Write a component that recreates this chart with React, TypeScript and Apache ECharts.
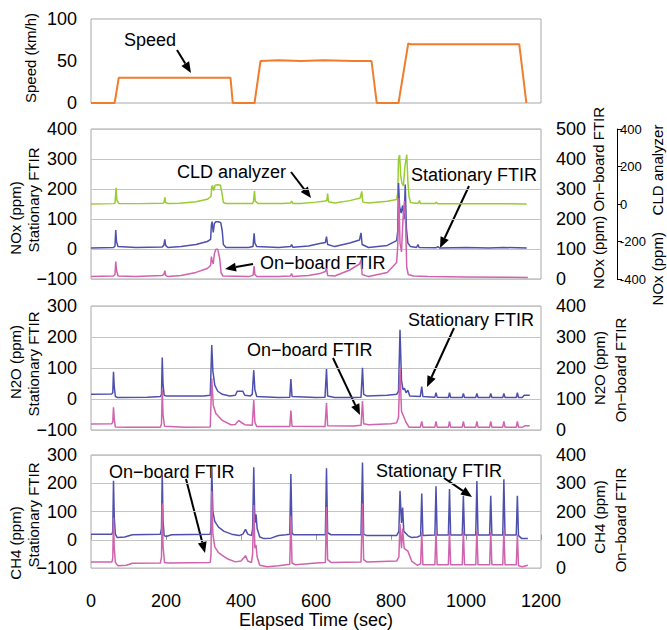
import React, { useEffect, useRef } from "react";
import * as echarts from "echarts";

type P = [number, number];

// ---- Tick settings ----
const X_MIN = 0;
const X_MAX = 1200;
const X_STEP = 200;

// ---- Speed (km/h) ----
const speed: P[] = [
  [0, 0], [63, 0], [74, 30], [150, 30], [250, 30], [372, 30], [378, 0], [436, 0], [452, 50],
  [500, 51], [560, 50], [620, 51], [700, 50], [748, 50], [762, 0], [820, 0], [846, 71],
  [852, 70], [960, 70], [1050, 70], [1142, 70], [1161, 0],
];

// ---- NOx ----
const noxStationary: P[] = [
  [0, 3], [60, 5], [64, 10], [66, 63], [68, 25], [72, 8], [120, 5], [190, 7], [194, 12], [197, 32],
  [199, 12], [205, 5], [240, 8], [280, 15], [310, 25], [319, 32], [321, 80], [323, 91], [326, 55],
  [329, 85], [333, 91], [340, 91], [346, 88], [350, 60], [353, 15], [360, 5], [420, 5], [432, 8],
  [435, 52], [437, 20], [442, 8], [500, 5], [532, 8], [535, 15], [538, 6], [580, 10], [610, 18],
  [625, 22], [628, 41], [631, 15], [650, 8], [690, 20], [716, 30], [720, 54], [723, 15], [740, 5],
  [790, 12], [815, 28], [818, 60], [820, 220], [823, 140], [827, 120], [831, 145], [835, 100],
  [838, 215], [841, 70], [845, 20], [852, 8], [868, 5], [872, 15], [875, 5], [920, 4], [925, 8],
  [930, 3], [1000, 5], [1060, 3], [1100, 5], [1162, 3],
];
const noxOnboard: P[] = [
  [0, 8], [60, 10], [64, 15], [66, 58], [68, 30], [72, 10], [120, 8], [190, 12], [194, 15], [197, 28],
  [199, 12], [205, 8], [240, 12], [280, 22], [310, 35], [319, 45], [321, 75], [323, 60], [326, 50],
  [329, 85], [333, 99], [338, 99], [343, 70], [347, 20], [352, 10], [420, 8], [432, 12], [435, 43],
  [437, 15], [442, 8], [500, 8], [532, 10], [535, 18], [538, 8], [580, 12], [610, 18], [625, 25],
  [628, 36], [631, 12], [650, 10], [690, 30], [716, 50], [720, 63], [723, 15], [740, 8], [790, 22],
  [815, 55], [818, 110], [821, 270], [824, 120], [828, 90], [832, 200], [836, 260], [839, 180],
  [842, 40], [846, 15], [860, 10], [900, 8], [1000, 7], [1100, 6], [1165, 5],
];
const noxCLD: P[] = [
  [0, 0], [60, 2], [64, 5], [67, 86], [69, 20], [74, 3], [130, 2], [192, 4], [195, 10], [197, 35],
  [199, 8], [205, 3], [237, 4], [280, 12], [310, 25], [320, 40], [322, 90], [324, 99], [327, 72],
  [331, 100], [338, 103], [345, 100], [349, 60], [353, 8], [360, 3], [430, 3], [433, 10], [436, 69],
  [438, 15], [445, 3], [510, 3], [532, 5], [535, 16], [538, 3], [560, 3], [600, 10], [625, 16],
  [629, 20], [631, 56], [633, 12], [650, 5], [690, 18], [718, 32], [722, 67], [725, 10], [740, 5],
  [790, 15], [815, 24], [818, 60], [820, 240], [823, 261], [826, 150], [829, 112], [833, 96],
  [837, 200], [840, 240], [842, 264], [845, 120], [848, 40], [852, 8], [870, 3], [874, 8], [876, 19],
  [878, 3], [918, 3], [921, 10], [924, 2], [1000, 2], [1100, 1], [1162, 0],
];

// ---- N2O ----
const n2oStationary: P[] = [
  [0, 15], [55, 16], [58, 20], [60, 88], [62, 40], [65, 8], [70, 5], [150, 6], [185, 8], [188, 15],
  [190, 134], [192, 50], [195, 12], [200, 10], [300, 10], [318, 12], [322, 174], [325, 90], [330, 45],
  [338, 25], [350, 15], [370, 10], [385, 12], [390, 25], [405, 25], [410, 12], [425, 10], [430, 15],
  [434, 93], [437, 30], [442, 8], [500, 5], [530, 6], [533, 64], [536, 8], [600, 5], [624, 6],
  [628, 97], [631, 10], [650, 5], [700, 5], [720, 6], [724, 101], [727, 15], [735, 10], [790, 12],
  [815, 15], [820, 25], [824, 223], [828, 60], [832, 30], [836, 35], [840, 20], [845, 28], [850, 10],
  [878, 8], [882, 40], [885, 8], [917, 6], [920, 20], [923, 6], [953, 5], [956, 20], [959, 5],
  [990, 5], [993, 18], [996, 5], [1026, 5], [1029, 18], [1032, 5], [1063, 5], [1066, 18], [1069, 5],
  [1098, 5], [1101, 18], [1104, 5], [1134, 5], [1137, 20], [1140, 5], [1150, 5], [1155, 12], [1170, 12],
];
const n2oOnboard: P[] = [
  [0, 19], [55, 20], [58, 25], [60, 73], [62, 35], [65, 10], [100, 9], [185, 9], [188, 20], [190, 130],
  [192, 50], [196, 12], [250, 9], [318, 10], [322, 167], [326, 80], [333, 53], [350, 31], [373, 17],
  [385, 18], [394, 31], [400, 25], [410, 17], [430, 15], [434, 97], [437, 25], [442, 11], [530, 11],
  [533, 63], [536, 12], [624, 11], [628, 87], [631, 14], [700, 13], [720, 15], [724, 93], [727, 20],
  [740, 17], [800, 20], [815, 23], [820, 40], [824, 200], [828, 60], [834, 43], [840, 25], [848, 9],
  [878, 9], [882, 28], [885, 9], [917, 9], [920, 28], [923, 9], [953, 9], [956, 28], [959, 9],
  [990, 9], [993, 28], [996, 9], [1026, 9], [1029, 28], [1032, 9], [1063, 9], [1066, 28], [1069, 9],
  [1098, 9], [1101, 28], [1104, 9], [1134, 9], [1137, 28], [1140, 9], [1152, 10], [1158, 14], [1170, 14],
];

// ---- CH4 ----
const ch4Stationary: P[] = [
  [0, 20], [56, 20], [58, 30], [60, 209], [62, 80], [65, 20], [70, 8], [90, 10], [110, 18], [185, 20],
  [188, 40], [190, 239], [192, 70], [195, 15], [200, 12], [215, 18], [318, 20], [320, 40], [322, 257],
  [325, 100], [330, 65], [340, 45], [355, 30], [375, 20], [395, 15], [405, 20], [412, 37], [418, 20],
  [428, 15], [431, 40], [434, 257], [437, 60], [440, 90], [443, 40], [450, 10], [460, 5], [480, 6],
  [500, 15], [520, 18], [530, 20], [533, 233], [536, 25], [540, 18], [625, 18], [628, 253], [631, 25],
  [640, 18], [720, 18], [724, 273], [727, 20], [735, 15], [815, 15], [821, 30], [824, 173], [828, 60],
  [831, 114], [834, 30], [845, 15], [855, 8], [870, 10], [879, 15], [882, 164], [885, 15], [917, 17],
  [920, 189], [923, 17], [953, 17], [956, 180], [959, 17], [990, 17], [993, 156], [996, 17],
  [1026, 17], [1029, 208], [1032, 17], [1063, 17], [1066, 156], [1069, 17], [1098, 17], [1101, 214],
  [1104, 17], [1134, 17], [1137, 156], [1140, 15], [1148, 5], [1165, 5],
];
const ch4Onboard: P[] = [
  [0, 22], [56, 22], [58, 35], [60, 178], [62, 70], [65, 20], [72, 8], [95, 10], [110, 17], [185, 18],
  [188, 40], [190, 228], [192, 80], [196, 20], [205, 18], [318, 20], [320, 50], [322, 272], [325, 120],
  [330, 75], [340, 55], [350, 45], [365, 32], [385, 22], [400, 25], [412, 44], [418, 25], [428, 20],
  [431, 50], [434, 223], [437, 70], [440, 82], [443, 40], [450, 10], [470, 5], [500, 8], [520, 12],
  [530, 14], [533, 183], [536, 18], [545, 12], [600, 18], [625, 20], [628, 217], [631, 30], [640, 20],
  [720, 22], [724, 228], [727, 30], [735, 22], [815, 25], [821, 40], [824, 156], [828, 70], [831, 140],
  [835, 70], [845, 60], [855, 25], [870, 10], [879, 15], [882, 128], [885, 12], [917, 12], [920, 133],
  [923, 12], [953, 12], [956, 133], [959, 12], [990, 12], [993, 133], [996, 12], [1026, 12],
  [1029, 133], [1032, 12], [1063, 12], [1066, 128], [1069, 12], [1098, 12], [1101, 135], [1104, 12],
  [1134, 12], [1137, 119], [1140, 8], [1150, 5], [1165, 10],
];

const FONT = '"Liberation Sans", Arial, sans-serif';
const C_SPEED = "#F07D2D";
const C_GREEN = "#99CC33";
const C_BLUE = "#4E50AE";
const C_PINK = "#CF63AE";

function arrow(x1: number, y1: number, x2: number, y2: number) {
  const a = Math.atan2(y2 - y1, x2 - x1);
  const L = 11;
  const W = 4.5;
  const bx = x2 - L * Math.cos(a);
  const by = y2 - L * Math.sin(a);
  return [
    { type: "line", shape: { x1, y1, x2: bx, y2: by }, style: { stroke: "#000", lineWidth: 2 } },
    {
      type: "polygon",
      shape: {
        points: [
          [x2, y2],
          [bx - W * Math.sin(a), by + W * Math.cos(a)],
          [bx + W * Math.sin(a), by - W * Math.cos(a)],
        ],
      },
      style: { fill: "#000" },
    },
  ];
}

function label(text: string, x: number, y: number, size = 18) {
  return {
    type: "text",
    x,
    y,
    style: { text, fill: "#000", font: `${size}px ${FONT}`, align: "left", verticalAlign: "middle" },
  };
}

function vtitle(text: string, x: number, y: number, size = 15) {
  return {
    type: "text",
    x,
    y,
    rotation: Math.PI / 2,
    style: { text, fill: "#000", font: `${size}px ${FONT}`, align: "center", verticalAlign: "middle" },
  };
}

const minus = (v: number) => String(v).replace("-", "\u2212");

function leftY(grid: number, min: number, max: number, interval: number, split: boolean) {
  return {
    type: "value",
    gridIndex: grid,
    position: "left",
    min,
    max,
    interval,
    axisLine: { show: false },
    axisTick: { show: false },
    splitLine: { show: split, lineStyle: { color: "#c4c4c4", width: 1 } },
    axisLabel: { fontSize: 18, color: "#000", margin: 14, fontFamily: FONT, formatter: minus },
  };
}
function rightY(grid: number, min: number, max: number, interval: number) {
  return {
    type: "value",
    gridIndex: grid,
    position: "right",
    min,
    max,
    interval,
    axisLine: { show: false },
    axisTick: { show: false },
    splitLine: { show: false },
    axisLabel: { fontSize: 18, color: "#000", margin: 15, fontFamily: FONT, formatter: minus },
  };
}

function line(data: P[], x: number, y: number, color: string, width = 1.5) {
  return {
    type: "line",
    xAxisIndex: x,
    yAxisIndex: y,
    data,
    showSymbol: false,
    symbol: "none",
    lineStyle: { color, width },
    itemStyle: { color },
    silent: true,
  };
}

export default function App() {
  const ref = useRef<HTMLDivElement>(null);
  useEffect(() => {
    const chart = echarts.init(ref.current!, null, { renderer: "svg" });
    const grids = [
      { top: 19, height: 84 },
      { top: 129, height: 150 },
      { top: 306, height: 124 },
      { top: 455, height: 120 },
    ].map((g) => ({ ...g, left: 91, right: 126, show: true, borderColor: "#a8a8a8", borderWidth: 1 }));

    const xAxis = [0, 1, 2, 3].map((i) => ({
      type: "value",
      gridIndex: i,
      min: X_MIN,
      max: X_MAX,
      interval: X_STEP,
      axisLine: { show: false },
      splitLine: { show: false },
      axisTick: { show: i === 3, inside: true, length: 5, lineStyle: { color: "#999" } },
      axisLabel: {
        show: i === 3,
        fontSize: 18,
        color: "#000",
        margin: 24,
        fontFamily: FONT,
        formatter: (v: number) => String(v),
      },
      name: i === 3 ? "Elapsed Time (sec)" : "",
      nameLocation: "middle",
      nameGap: 39,
      nameTextStyle: { fontSize: 18, color: "#000", fontFamily: FONT },
    }));

    const yAxis = [
      leftY(0, 0, 100, 50, false),
      leftY(1, -100, 400, 100, true),
      rightY(1, 0, 500, 100),
      {
        type: "value",
        gridIndex: 1,
        position: "right",
        offset: 76,
        min: -400,
        max: 400,
        interval: 200,
        axisLine: { show: true, lineStyle: { color: "#000", width: 1 } },
        axisTick: { show: true, length: 5, lineStyle: { color: "#000" } },
        splitLine: { show: false },
        axisLabel: { fontSize: 13, color: "#000", margin: 3, fontFamily: FONT },
      },
      leftY(2, -100, 300, 100, true),
      rightY(2, 0, 400, 100),
      leftY(3, -100, 300, 100, true),
      rightY(3, 0, 400, 100),
    ];

    const series = [
      line(speed, 0, 0, C_SPEED, 2),
      line(noxCLD, 1, 3, C_GREEN),
      line(noxStationary, 1, 1, C_BLUE),
      line(noxOnboard, 1, 2, C_PINK),
      line(n2oStationary, 2, 4, C_BLUE),
      line(n2oOnboard, 2, 5, C_PINK),
      line(ch4Stationary, 3, 6, C_BLUE),
      line(ch4Onboard, 3, 7, C_PINK),
    ];

    const graphic = [
      // axis titles
      vtitle("Speed (km/h)", 30, 58),
      vtitle("NOx (ppm)", 15, 218),
      vtitle("Stationary FTIR", 33, 200),
      vtitle("N2O (ppm)", 15, 362),
      vtitle("Stationary FTIR", 33, 364),
      vtitle("CH4 (ppm)", 15, 543),
      vtitle("Stationary FTIR", 33, 515),
      vtitle("NOx (ppm) On\u2212board FTIR", 598, 198),
      vtitle("NOx (ppm)    CLD analyzer", 657, 215),
      vtitle("N2O (ppm)", 599, 368),
      vtitle("On\u2212board FTIR", 620, 370),
      vtitle("CH4 (ppm)", 599, 517),
      vtitle("On\u2212board FTIR", 620, 520),
      // annotations
      label("Speed", 124, 40),
      ...arrow(177, 50, 191, 73),
      label("CLD analyzer", 177, 172),
      ...arrow(291, 172, 311, 198),
      label("Stationary FTIR", 411, 175),
      ...arrow(469, 186, 440, 248),
      label("On\u2212board FTIR", 260, 263),
      ...arrow(253, 264, 225, 269),
      label("Stationary FTIR", 408, 320),
      ...arrow(454, 328, 427, 387),
      label("On\u2212board FTIR", 247, 350),
      ...arrow(333, 358, 360, 415),
      label("On\u2212board FTIR", 109, 472),
      ...arrow(186, 479, 205, 553),
      label("Stationary FTIR", 376, 471),
      ...arrow(444, 478, 472, 497),
    ];

    chart.setOption({
      animation: false,
      backgroundColor: "#fff",
      textStyle: { fontFamily: FONT },
      grid: grids,
      xAxis,
      yAxis,
      series,
      graphic,
    });
    return () => chart.dispose();
  }, []);
  return (
    <div
      ref={ref}
      style={{ position: "fixed", left: 0, top: 0, width: 667, height: 630, background: "#fff" }}
    />
  );
}
